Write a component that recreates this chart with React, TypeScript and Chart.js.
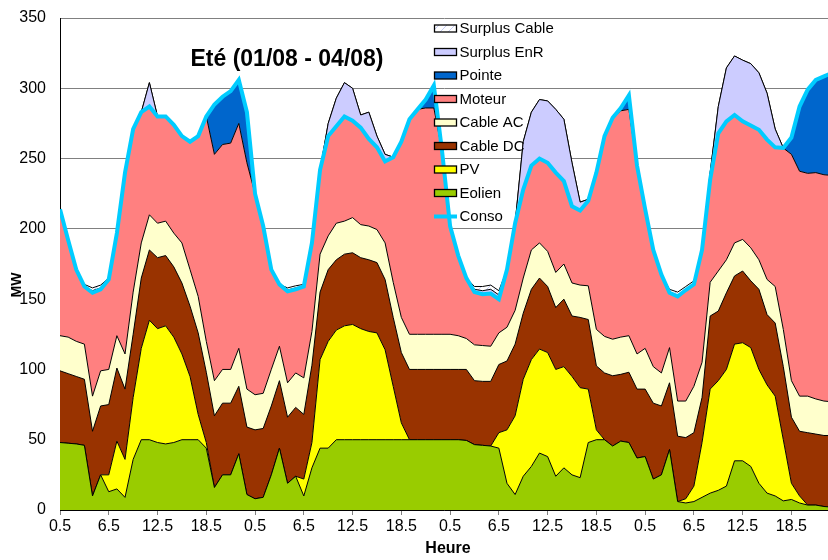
import React, { useEffect, useRef } from 'react';
import { Chart, registerables } from 'chart.js';

Chart.register(...registerables);

// hourly slots, 4 days x 24 h (x position = slot index)
const slots: number[] = Array.from({ length: 96 }, (_, i) => i);
const tickLabels = ['0.5', '6.5', '12.5', '18.5'];
const tickSlots = [0, 6, 12, 18, 24, 30, 36, 42, 48, 54, 60, 66, 72, 78, 84, 90];

const eolien = [
  48, 47.5, 47, 46, 10, 25, 13, 15, 9, 36, 50, 50, 48, 47, 48, 50, 50, 50, 44, 16, 25, 25, 40, 11,
  8, 9, 25, 44, 19, 24, 10, 30, 44, 44, 50, 50, 50, 50, 50, 50, 50, 50, 50, 50, 50, 50, 50, 50,
  50, 50, 49.5, 46.5, 46, 45.5, 44, 19, 11, 24, 31, 40.5, 38, 24, 30, 25, 23, 48, 50, 50, 45.5, 49, 48, 37,
  38, 22, 25, 43, 6, 5, 6, 9, 12, 14, 17, 35, 35, 31, 19, 12, 10, 6.5, 7.5, 5, 3.5, 3.5, 2.5, 2,
];
const pv = [
  0, 0, 0, 0, 0, 0, 12, 34, 27, 44, 65, 85, 81, 84, 75, 61, 45, 18, 4, 0, 0, 0, 0, 0,
  0, 0, 0, 0, 0, 0, 12, 18, 63, 76, 78, 81, 82, 79, 77, 76, 64, 38, 12, 0, 0, 0, 0, 0,
  0, 0, 0, 0, 0, 0, 11, 38, 56, 69, 76, 74, 74, 76, 72, 70, 64, 38, 7, 0, 0, 0, 0, 0,
  0, 0, 0, 0, 0, 3, 11, 39, 74, 78, 83, 83, 84, 84.5, 81, 77, 71, 43.5, 11.5, 5, 0, 0, 0, 0,
];
const cableDC = [
  51, 49.5, 48, 47, 46, 49, 50, 52, 50, 45, 50, 50, 50.5, 50, 50, 50.5, 50, 58, 50, 51, 51, 51, 48, 48,
  49, 49, 49, 48, 47, 49, 46, 55, 48, 51, 50, 51, 51, 50.5, 51, 50, 50, 49, 50, 50, 50, 50, 50, 50,
  50, 50, 50.5, 45.5, 45.5, 46, 48.5, 49, 51, 47, 50, 50.5, 47, 44, 48, 43, 50, 49.5, 45.5, 47.5, 50, 47.5, 50, 49,
  48, 54, 49, 47.5, 46.5, 43.5, 38, 32, 52, 49.5, 54.5, 48.5, 51, 47.5, 57, 50, 52, 52, 47, 46, 51.5, 50.5, 50.5, 51,
];
const cableAC = [
  25, 26, 25, 25, 25, 25, 25, 23, 25, 30, 25, 25, 24.5, 24.5, 24, 28.5, 26, 26, 22, 25, 24, 24, 27, 27,
  25, 25, 26, 24.5, 24.5, 24.5, 26, 24, 27, 24, 26, 23.5, 25, 23.5, 24, 23.5, 26, 25, 25, 25, 25, 25, 25, 25,
  25, 24, 22, 25.5, 25.5, 25, 22.5, 24, 24, 25, 28, 25, 25, 25, 25, 23.5, 23, 24, 26, 26, 26, 26.5, 26, 25,
  29, 26, 23.5, 25, 25, 26, 33, 25, 24, 28.5, 23.5, 23.5, 22.5, 23.5, 21, 25, 26, 26.5, 26, 25, 26, 25, 24.5, 24,
];
const moteur = [
  90, 69, 51, 41, 73.5, 58, 64, 73, 129, 116, 93, 77, 76, 74.5, 77, 76, 91, 114, 160, 161, 160, 161, 160, 161,
  143, 119, 71, 44, 65, 59.5, 65, 63, 60, 71, 69, 74.5, 69, 69, 62, 58.5, 58, 89, 125, 153, 160, 161, 161, 131,
  77, 57, 43, 37.5, 36.5, 37.5, 24, 41, 62, 63, 60, 60, 63, 71, 59, 54.5, 53, 60.5, 111.5, 142.5, 157.5, 161, 161, 134,
  99, 83, 70, 39, 74.5, 79, 72.5, 80, 73, 98, 98.5, 91, 84, 87, 92.5, 99.5, 99, 129, 161, 160, 158.5, 161, 161, 161,
];
const pointe = [
  0, 0, 0, 0, 0, 0, 0, 0, 0, 0, 0, 0, 0, 0, 0, 0, 0, 0, 0, 35.5, 34, 37, 31, 36,
  0, 0, 0, 0, 0, 0, 0, 0, 0, 0, 0, 0, 0, 0, 0, 0, 0, 0, 0, 0, 0, 6, 16, 0,
  0, 0, 0, 0, 0, 0, 0, 0, 0, 0, 0, 0, 0, 0, 0, 0, 0, 0, 0, 0, 0, 2, 10, 0,
  0, 0, 0, 0, 0, 0, 0, 0, 0, 0, 0, 0, 0, 0, 0, 0, 0, 0, 12, 46, 59.5, 66, 70, 73,
];
const surplusEnR = [
  0, 0, 0, 0, 1.5, 1, 0, 0, 0, 0, 0, 17, 0, 0, 0, 0, 0, 0, 0, 0, 0, 0, 0, 0,
  0, 0, 0, 0, 1, 1, 0, 0, 0, 9, 20, 24, 23, 9, 19, 8, 5, 0, 0, 0, 0, 0, 0, 0,
  0, 0, 0, 2, 2.5, 3, 3, 0, 0, 34, 38, 42, 44, 45, 44, 31, 6, 1, 0, 0, 0, 0, 0, 0,
  0, 0, 0, 0, 0, 0, 0, 0, 5, 19, 38, 42, 43.5, 44, 40.5, 33, 13, 0, 0, 0, 0, 0, 0, 0,
];
const surplusCable = [
  0, 0, 0, 1.5, 2, 2, 1, 0, 0, 0, 0, 0, 0, 0, 0, 0, 0, 0, 0, 0, 0, 0, 0, 0,
  0, 0, 0, 0, 1.5, 1.5, 1.5, 0, 0, 0, 0, 0, 0, 0, 0, 0, 0, 0, 0, 0, 0, 0, 0, 0,
  0, 0, 0, 2, 3, 3, 3, 0, 0, 0, 0, 0, 0, 0, 0, 0, 0, 0, 0, 0, 0, 0, 0, 0,
  0, 0, 0, 2.5, 3, 2.5, 2.5, 0, 0, 0, 0, 0, 0, 0, 0, 0, 0, 0, 0, 0, 0, 0, 0, 0,
];
const conso = [
  214, 192, 171, 159, 154.5, 157, 164, 197, 240, 271, 283, 287, 280, 280, 274, 266, 262, 266, 280, 288.5, 294, 298, 306, 283,
  225, 202, 171, 160.5, 155.5, 157, 159, 190, 242, 266, 273, 280, 277, 272, 264, 258, 248, 251, 262, 278, 285, 292, 302, 256,
  202, 181, 165, 155, 153.5, 154, 150, 171, 204, 228, 245, 250, 247, 240, 234, 216, 213, 220, 240, 266, 279, 286, 295, 245,
  214, 185, 167.5, 154.5, 152, 156.5, 160.5, 185, 235, 268, 276.5, 281, 276.5, 273.5, 270.5, 263.5, 258, 257.5, 265, 287, 299, 306, 308.5, 311,
];

const chartTitle = 'Eté (01/08 - 04/08)';
const yTitle = 'MW';
const xTitle = 'Heure';

const FONT = '"Liberation Sans", Arial, sans-serif';
const COL = {
  eolien: '#99CC00',
  pv: '#FFFF00',
  dc: '#993300',
  ac: '#FFFFCC',
  moteur: '#FF8080',
  pointe: '#0066CC',
  enr: '#CCCCFF',
  conso: '#00CCFF',
};

export default function App() {
  const ref = useRef<HTMLCanvasElement | null>(null);

  useEffect(() => {
    const canvas = ref.current;
    if (!canvas) return;
    const ctx = canvas.getContext('2d')!;

    const pc = document.createElement('canvas');
    pc.width = 8;
    pc.height = 8;
    const p = pc.getContext('2d')!;
    p.fillStyle = '#ffffff';
    p.fillRect(0, 0, 8, 8);
    p.strokeStyle = '#C4CAF4';
    p.lineWidth = 1;
    p.beginPath();
    p.moveTo(0, 8);
    p.lineTo(8, 0);
    p.stroke();
    const hatch = ctx.createPattern(pc, 'repeat') as CanvasPattern;

    const area = (label: string, data: number[], color: any, fill: any) => ({
      label,
      data,
      backgroundColor: color,
      borderColor: '#000000',
      borderWidth: 1,
      pointRadius: 0,
      tension: 0,
      fill,
      stack: 'supply',
    });

    const legendItems: { label: string; color: any; line?: boolean }[] = [
      { label: 'Surplus Cable', color: hatch },
      { label: 'Surplus EnR', color: COL.enr },
      { label: 'Pointe', color: COL.pointe },
      { label: 'Moteur', color: COL.moteur },
      { label: 'Cable AC', color: COL.ac },
      { label: 'Cable DC', color: COL.dc },
      { label: 'PV', color: COL.pv },
      { label: 'Eolien', color: COL.eolien },
      { label: 'Conso', color: COL.conso, line: true },
    ];

    const overlay = {
      id: 'overlay',
      afterDraw(chart: any) {
        const c = chart.ctx;
        c.save();
        c.fillStyle = '#000';
        c.textBaseline = 'middle';
        // title
        c.font = `bold 23px ${FONT}`;
        c.textAlign = 'center';
        c.fillText(chartTitle, 287, 60);
        // axis titles
        c.font = `bold 16px ${FONT}`;
        c.fillText(xTitle, 448, 549);
        c.save();
        c.translate(17, 285);
        c.rotate(-Math.PI / 2);
        c.font = `bold 14px ${FONT}`;
        c.fillText(yTitle, 0, 0);
        c.restore();
        // legend
        c.font = `15px ${FONT}`;
        c.textAlign = 'left';
        legendItems.forEach((it, k) => {
          const cy = 28.5 + k * 23.5;
          if (it.line) {
            c.strokeStyle = it.color;
            c.lineWidth = 4;
            c.beginPath();
            c.moveTo(434, cy);
            c.lineTo(457, cy);
            c.stroke();
          } else {
            c.fillStyle = it.color;
            c.fillRect(434.5, cy - 3.5, 22, 7);
            c.strokeStyle = '#000';
            c.lineWidth = 1.3;
            c.strokeRect(434.5, cy - 3.5, 22, 7);
          }
          c.fillStyle = '#000';
          c.fillText(it.label, 459.5, cy + 0.5);
        });
        c.restore();
      },
    };

    const chart = new Chart(ctx, {
      type: 'line',
      data: {
        labels: slots,
        datasets: [
          {
            label: 'Conso',
            data: conso,
            borderColor: COL.conso,
            backgroundColor: COL.conso,
            borderWidth: 4,
            pointRadius: 0,
            tension: 0,
            fill: false,
            stack: 'conso',
          } as any,
          area('Eolien', eolien, COL.eolien, 'origin'),
          area('PV', pv, COL.pv, '-1'),
          area('Cable DC', cableDC, COL.dc, '-1'),
          area('Cable AC', cableAC, COL.ac, '-1'),
          area('Moteur', moteur, COL.moteur, '-1'),
          area('Pointe', pointe, COL.pointe, '-1'),
          area('Surplus EnR', surplusEnR, COL.enr, '-1'),
          area('Surplus Cable', surplusCable, hatch, '-1'),
        ],
      },
      options: {
        responsive: false,
        animation: false,
        layout: { padding: { top: 18, left: 0, right: 0, bottom: 0 } },
        plugins: {
          legend: { display: false },
          title: { display: false },
          tooltip: { enabled: false },
        },
        scales: {
          x: {
            type: 'linear',
            min: 0,
            max: 94.5,
            afterBuildTicks: (scale: any) => {
              scale.ticks = tickSlots.map((v) => ({ value: v }));
            },
            afterFit: (scale: any) => {
              scale.height = 50;
              scale.paddingRight = 0;
            },
            ticks: {
              autoSkip: false,
              maxRotation: 0,
              color: '#000',
              padding: 2,
              font: { family: FONT, size: 16 },
              callback: (v: any) => tickLabels[(Number(v) / 6) % 4],
            },
            grid: {
              drawOnChartArea: false,
              drawTicks: true,
              tickLength: 5,
              color: '#808080',
            },
            border: { display: true, color: '#000', width: 1 },
          },
          y: {
            stacked: true,
            min: 0,
            max: 350,
            afterFit: (scale: any) => {
              scale.width = 60;
              scale.paddingTop = 0;
              scale.paddingBottom = 0;
            },
            ticks: {
              stepSize: 50,
              color: '#000',
              padding: 14,
              font: { family: FONT, size: 16 },
            },
            grid: { color: '#808080', lineWidth: 1, drawTicks: false },
            border: { display: true, color: '#000', width: 1 },
          },
        },
      } as any,
      plugins: [overlay],
    });

    return () => chart.destroy();
  }, []);

  return (
    <div style={{ position: 'absolute', left: 0, top: 0, width: 828, height: 560, background: '#fff' }}>
      <canvas ref={ref} width={828} height={560} style={{ display: 'block', width: 828, height: 560 }} />
    </div>
  );
}
